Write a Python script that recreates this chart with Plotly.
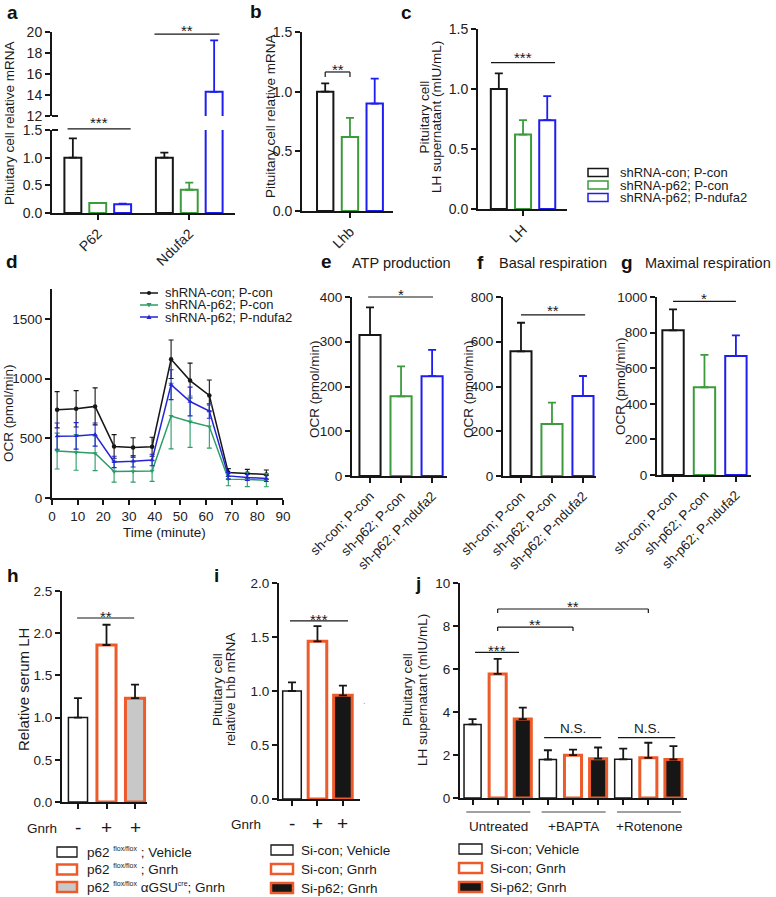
import plotly.graph_objects as go

W, H = 776, 897
FONT = "Liberation Sans, Arial, Helvetica, sans-serif"
INK = "#161616"
GREEN = "#3c9c3c"
BLUE = "#1e1ef0"
D_GREEN = "#2b9d69"
D_BLUE = "#2525d6"
ORANGE = "#ee5b2b"
GREY = "#c8c8c8"

# ---------------- data ----------------
series_names = ["shRNA-con; P-con", "shRNA-p62; P-con", "shRNA-p62; P-ndufa2"]

a_genes = ["P62", "Ndufa2"]
a_shcon = [1.00, 1.00]
a_shcon_err = [0.35, 0.09]
a_shp62 = [0.18, 0.42]
a_shp62_err = [0.00, 0.13]
a_ndufa2 = [0.16, 14.3]
a_ndufa2_err = [0.01, 4.9]

b_gene = ["Lhb"]
b_vals = [1.00, 0.62, 0.90]
b_err = [0.07, 0.16, 0.21]

c_gene = ["LH"]
c_vals = [1.00, 0.62, 0.74]
c_err = [0.13, 0.12, 0.20]

d_time = [2.0, 9.4, 16.8, 24.2, 31.6, 39.0, 46.4, 53.8, 61.3, 68.7, 76.1, 83.5]
d_shcon = [739, 747, 767, 432, 423, 429, 1162, 983, 858, 213, 205, 197]
d_shcon_err = [152, 152, 155, 99, 81, 80, 161, 146, 130, 33, 35, 38]
d_shp62 = [393, 382, 374, 221, 221, 227, 686, 639, 598, 158, 155, 149]
d_shp62_err = [150, 150, 145, 88, 88, 88, 275, 215, 180, 55, 60, 55]
d_ndufa2 = [518, 520, 531, 302, 307, 318, 949, 808, 728, 185, 172, 163]
d_ndufa2_err = [110, 111, 97, 48, 48, 48, 125, 120, 60, 28, 25, 25]

efg_labels = ["sh-con; P-con", "sh-p62; P-con", "sh-p62; P-ndufa2"]
e_vals = [315, 178, 223]
e_err = [62, 67, 59]
f_vals = [557, 232, 358]
f_err = [128, 96, 89]
g_vals = [813, 493, 668]
g_err = [117, 182, 116]

h_groups = ["p62 <sup><span style='font-size:7px'>flox/flox</span></sup> ; Vehicle",
            "p62 <sup><span style='font-size:7px'>flox/flox</span></sup> ; Gnrh",
            "p62 <sup><span style='font-size:7px'>flox/flox</span></sup> αGSU<sup><span style='font-size:7px'>cre</span></sup>; Gnrh"]
h_gnrh = ["-", "+", "+"]
h_vals = [1.00, 1.86, 1.23]
h_err = [0.23, 0.24, 0.16]

i_groups = ["Si-con; Vehicle", "Si-con; Gnrh", "Si-p62; Gnrh"]
i_gnrh = ["-", "+", "+"]
i_vals = [1.00, 1.46, 0.96]
i_err = [0.08, 0.14, 0.09]

j_treat = ["Untreated", "+BAPTA", "+Rotenone"]
j_conditions = ["Si-con; Vehicle", "Si-con; Gnrh", "Si-p62; Gnrh"]
j_sicon_veh = [3.42, 1.79, 1.80]
j_sicon_veh_err = [0.25, 0.43, 0.50]
j_sicon_gnrh = [5.77, 1.99, 1.87]
j_sicon_gnrh_err = [0.70, 0.26, 0.70]
j_sip62_gnrh = [3.67, 1.83, 1.79]
j_sip62_gnrh_err = [0.53, 0.52, 0.62]

# ---------------- helpers ----------------
fig = go.Figure()
layout = {}
SPEC = {}
shapes, annotations = [], []


def add_axes(i, xpx, ypx, xr, yr, xkw=None, ykw=None):
    SPEC[i] = dict(xpx=xpx, ypx=ypx, xr=xr, yr=yr)
    xn = "xaxis" if i == 1 else f"xaxis{i}"
    yn = "yaxis" if i == 1 else f"yaxis{i}"
    xid = "x" if i == 1 else f"x{i}"
    yid = "y" if i == 1 else f"y{i}"
    base = dict(showline=True, linecolor=INK, linewidth=2, ticks="outside", ticklen=5,
                tickwidth=2, tickcolor=INK, showgrid=False, zeroline=False, fixedrange=True,
                automargin=False,
                tickfont=dict(family=FONT, size=13.5, color="#222"))
    xa = dict(base)
    xa.update(domain=[xpx[0] / W, xpx[1] / W], range=list(xr), anchor=yid)
    xa.update(xkw or {})
    ya = dict(base)
    ya.update(domain=[1 - ypx[1] / H, 1 - ypx[0] / H], range=list(yr), anchor=xid)
    ya.update(ykw or {})
    layout[xn] = xa
    layout[yn] = ya
    return xid, yid


def X(i, v):
    s = SPEC[i]
    a, b = s["xpx"]
    r0, r1 = s["xr"]
    return a + (v - r0) / (r1 - r0) * (b - a)


def Y(i, v):
    s = SPEC[i]
    t, b = s["ypx"]
    r0, r1 = s["yr"]
    return b - (v - r0) / (r1 - r0) * (b - t)


def line(x0, y0, x1, y1, color=INK, w=1.2):
    shapes.append(dict(type="line", xref="paper", yref="paper", x0=x0 / W, y0=1 - y0 / H,
                       x1=x1 / W, y1=1 - y1 / H, line=dict(color=color, width=w)))


def rect(x0, y0, x1, y1, color=INK, fill="white", w=1.2):
    shapes.append(dict(type="rect", xref="paper", yref="paper", x0=x0 / W, y0=1 - y0 / H,
                       x1=x1 / W, y1=1 - y1 / H, line=dict(color=color, width=w), fillcolor=fill))


def text(x, y, s, size=13.5, xanchor="center", yanchor="middle", angle=0, bold=False, color="#1a1a1a"):
    annotations.append(dict(xref="paper", yref="paper", x=x / W, y=1 - y / H,
                            text=f"<b>{s}</b>" if bold else s, showarrow=False,
                            font=dict(size=size, family=FONT, color=color),
                            xanchor=xanchor, yanchor=yanchor, textangle=angle))


def sig(i, xa, xb, yv, label, gap=6, drop=0, size=15):
    y = Y(i, yv)
    x0, x1 = X(i, xa), X(i, xb)
    line(x0, y, x1, y, w=1.2)
    if drop:
        line(x0, y, x0, y + drop, w=1.2)
        line(x1, y, x1, y + drop, w=1.2)
    if label.startswith("*"):
        text((x0 + x1) / 2, y - gap + 0.23 * size, label, size=size)
    else:
        text((x0 + x1) / 2, y - gap, label, size=size)


def bar(xid, yid, x, y, err, lc, fill="white", lw=2.0, ec=None, offset=None, width=0.18):
    kw = {}
    if offset is not None:
        kw["offset"] = offset
    fig.add_trace(go.Bar(
        x=x, y=y, xaxis=xid, yaxis=yid, width=width,
        marker=dict(color=fill, line=dict(color=lc, width=lw)),
        error_y=dict(type="data", array=err, arrayminus=[0] * len(err), symmetric=False,
                     color=ec or lc, thickness=1.8, width=4),
        showlegend=False, hoverinfo="skip", **kw))


TRI_COLORS = [INK, GREEN, BLUE]
slot, bw = 0.272, 0.185
TF14 = dict(family=FONT, size=14, color="#222")

# ---------------- panel a (broken axis) ----------------
xa1, ya1 = add_axes(1, (52, 235), (130, 213), (-0.5, 1.5), (0, 1.5),
                    dict(type="category", categoryarray=a_genes, tickangle=-45, tickfont=TF14),
                    dict(dtick=0.5, tick0=0, tickformat=".1f", tickfont=TF14))
xa2, ya2 = add_axes(2, (52, 235), (32, 116), (-0.5, 1.5), (12, 20),
                    dict(type="category", categoryarray=a_genes, visible=False),
                    dict(dtick=2, tick0=12, tickfont=TF14))
a_vals = [a_shcon, a_shp62, a_ndufa2]
a_errs = [a_shcon_err, a_shp62_err, a_ndufa2_err]
for k in range(3):
    for xid, yid in ((xa1, ya1), (xa2, ya2)):
        bar(xid, yid, a_genes, a_vals[k], a_errs[k], TRI_COLORS[k],
            offset=(k - 1) * slot - bw / 2, width=bw)
line(52, Y(2, 12), 58, Y(2, 12), w=2)
line(52, Y(1, 1.5), 58, Y(1, 1.5), w=2)
sig(1, -0.33, 0.36, 1.52, "***", gap=10)
sig(2, 0.62, 1.33, 19.8, "**", gap=7.5)
text(9, 123, "Pituitary cell relative mRNA", angle=-90)

# ---------------- panel b ----------------
xb, yb = add_axes(3, (302, 393), (32, 211), (-0.527, 0.473), (0, 1.5),
                  dict(type="category", tickangle=-45, tickfont=TF14),
                  dict(dtick=0.5, tick0=0, tickformat=".1f", tickfont=TF14))
for k in range(3):
    bar(xb, yb, b_gene, [b_vals[k]], [b_err[k]], TRI_COLORS[k], offset=(k - 1) * slot - 0.09, width=0.18)
sig(3, -slot, 0, 1.165, "**", gap=5.6, drop=5)
text(270, 116, "Pituitary cell relative mRNA", angle=-90)

# ---------------- panel c ----------------
xc, yc = add_axes(4, (478, 567), (29, 209), (-0.506, 0.494), (0, 1.5),
                  dict(type="category", tickangle=-45, tickfont=TF14),
                  dict(dtick=0.5, tick0=0, tickformat=".1f", tickfont=TF14))
for k in range(3):
    bar(xc, yc, c_gene, [c_vals[k]], [c_err[k]], TRI_COLORS[k], offset=(k - 1) * slot - 0.09, width=0.18)
sig(4, -0.36, 0.36, 1.22, "***", gap=8.4)
text(423.5, 117, "Pituitary cell", angle=-90)
text(436, 117, "LH supernatant (mIU/mL)", angle=-90)
for k, nm in enumerate(series_names):
    ry = 172.5 + k * 12.5
    rect(588, ry - 4, 608, ry + 4, color=TRI_COLORS[k], w=1.5)
    text(618, ry, nm, size=13, xanchor="left")

# ---------------- panel d ----------------
xd, yd = add_axes(5, (52, 283), (289, 498), (0, 90), (0, 1750),
                  dict(tickvals=list(range(0, 100, 10))),
                  dict(tickvals=[0, 500, 1000, 1500]))
d_sets = [(d_shcon, d_shcon_err, INK, "circle"),
          (d_shp62, d_shp62_err, D_GREEN, "triangle-down"),
          (d_ndufa2, d_ndufa2_err, D_BLUE, "triangle-up")]
for vals, errs, col, sym in d_sets:
    fig.add_trace(go.Scatter(x=d_time, y=vals, xaxis=xd, yaxis=yd, mode="lines+markers",
                             line=dict(color=col, width=1.5),
                             marker=dict(symbol=sym, size=4.5, color=col),
                             error_y=dict(type="data", array=errs, color=col, thickness=1.1, width=2.5),
                             showlegend=False, hoverinfo="skip"))
for k, (vals, errs, col, sym) in enumerate(d_sets):
    ry = 293 + k * 12
    line(140, ry, 158, ry, color=col, w=1.5)
    if sym == "circle":
        shapes.append(dict(type="circle", xref="paper", yref="paper", x0=147 / W, x1=151 / W,
                           y0=1 - (ry + 2) / H, y1=1 - (ry - 2) / H, fillcolor=col, line=dict(color=col, width=0)))
    else:
        s = 1 if sym == "triangle-up" else -1
        pts = [(146.5, ry + 2 * s), (151.5, ry + 2 * s), (149, ry - 2.5 * s)]
        path = "M" + " L".join(f"{px / W:.5f},{1 - py / H:.5f}" for px, py in pts) + " Z"
        shapes.append(dict(type="path", xref="paper", yref="paper", path=path, fillcolor=col,
                           line=dict(color=col, width=0)))
    text(163, ry, series_names[k], size=13, xanchor="left")
text(164, 532, "Time (minute)")
text(8, 413, "OCR (pmol/min)", angle=-90)

# ---------------- panels e, f, g ----------------
efg = [(6, (352, 447), (297, 476), (-0.58, 2.48), 400, 100, e_vals, e_err),
       (7, (503, 596), (297, 476), (-0.58, 2.42), 800, 200, f_vals, f_err),
       (8, (657, 751), (297, 475), (-0.51, 2.48), 1000, 200, g_vals, g_err)]
for idx, xpx, ypx, xr, ymax, dt, vals, errs in efg:
    xid, yid = add_axes(idx, xpx, ypx, xr, (0, ymax),
                        dict(type="category", tickangle=-45, tickfont=dict(family=FONT, size=13.5, color="#222")),
                        dict(dtick=dt, tick0=0))
    for k in range(3):
        bar(xid, yid, [efg_labels[k]], [vals[k]], [errs[k]], TRI_COLORS[k], width=0.68)
sig(6, -0.06, 2.03, 400, "*", gap=6)
sig(7, 0.0, 2.07, 720, "**", gap=8.3)
sig(8, 0.0, 2.0, 975, "*", gap=6.7)
text(314, 389, "OCR (pmol/min)", angle=-90)
text(468, 389, "OCR (pmol/min)", angle=-90)
text(620, 386, "OCR (pmol/min)", angle=-90)
text(350, 263, "ATP production", size=14.5, xanchor="left")
text(497, 263, "Basal respiration", size=14.5, xanchor="left")
text(643, 263, "Maximal respiration", size=14.5, xanchor="left")

# ---------------- panel h ----------------
HIJ = [("white", INK, 1.5), ("white", ORANGE, 3), (GREY, ORANGE, 3)]
xh, yh = add_axes(9, (62, 147), (591, 802), (-0.56, 2.42), (0, 2.5),
                  dict(type="category", showticklabels=False),
                  dict(dtick=0.5, tick0=0, tickformat=".1f"))
for k in range(3):
    fill, lc, lw = HIJ[k]
    bar(xh, yh, [h_groups[k]], [h_vals[k]], [h_err[k]], lc, fill=fill, lw=lw, ec=INK, width=0.67)
    text(X(9, k), 827, h_gnrh[k], size=19)
text(42, 828, "Gnrh", size=13.5)
sig(9, -0.03, 1.97, 2.18, "**", gap=5)
text(23, 690, "Relative serum LH", size=15, angle=-90)
for k in range(3):
    fill, lc, lw = HIJ[k]
    ry = 852 + k * 17.5
    rect(57, ry - 5, 77, ry + 5, color=lc, fill=fill, w=1.3 if k == 0 else 2.5)
    text(85, ry, h_groups[k], size=13.5, xanchor="left")

# ---------------- panel i ----------------
HIJ2 = [("white", INK, 1.5), ("white", ORANGE, 3), (INK, ORANGE, 3)]
xi, yi = add_axes(10, (279, 360), (583, 799), (-0.51, 2.67), (0, 2.0),
                  dict(type="category", showticklabels=False),
                  dict(dtick=0.5, tick0=0, tickformat=".1f"))
for k in range(3):
    fill, lc, lw = HIJ2[k]
    bar(xi, yi, [i_groups[k]], [i_vals[k]], [i_err[k]], lc, fill=fill, lw=lw, ec=INK, width=0.73)
    text(X(10, k), 823, i_gnrh[k], size=19)
text(246, 824, "Gnrh", size=13.5)
sig(10, -0.08, 2.2, 1.65, "***", gap=4.7)
text(217, 690, "Pituitary cell", angle=-90)
text(230, 690, "relative Lhb mRNA", angle=-90)
text(364, 701, ".", size=9, color="#999")
for k in range(3):
    fill, lc, lw = HIJ2[k]
    ry = 850 + k * 19
    rect(271, ry - 5, 293, ry + 5, color=lc, fill=fill, w=1.3 if k == 0 else 2.5)
    text(299, ry, i_groups[k], size=13.5, xanchor="left")

# ---------------- panel j ----------------
xj, yj = add_axes(11, (460, 687), (583, 798), (-0.5, 8.54), (0, 10),
                  dict(tickvals=list(range(9)), showticklabels=False),
                  dict(dtick=2, tick0=0))
j_sets = [(j_sicon_veh, j_sicon_veh_err), (j_sicon_gnrh, j_sicon_gnrh_err), (j_sip62_gnrh, j_sip62_gnrh_err)]
for k, (vals, errs) in enumerate(j_sets):
    fill, lc, lw = HIJ2[k]
    xs = [g * 3 + k for g in range(len(j_treat))]
    bar(xj, yj, xs, vals, errs, lc, fill=fill, lw=lw, ec=INK, width=0.68)
sig(11, 0.1, 1.85, 6.77, "***", gap=5.5)
sig(11, 1.0, 4.0, 7.95, "**", gap=5.6, drop=4)
sig(11, 1.0, 7.0, 8.79, "**", gap=6, drop=4)
sig(11, 2.85, 5.12, 2.81, "N.S.", gap=9, size=13.5)
sig(11, 5.79, 8.07, 2.81, "N.S.", gap=9, size=13.5)
for g, name in enumerate(j_treat):
    x0, x1 = X(11, g * 3 - 0.25), X(11, g * 3 + 2.3)
    line(x0, 812, x1, 812, color="#444", w=1.2)
    text((x0 + x1) / 2, 826, name, size=13.5)
text(407, 690, "Pituitary cell", angle=-90)
text(422, 690, "LH supernatant (mIU/mL)", angle=-90)
for k in range(3):
    fill, lc, lw = HIJ2[k]
    ry = 849 + k * 19
    rect(459, ry - 5, 482, ry + 5, color=lc, fill=fill, w=1.3 if k == 0 else 2.5)
    text(488, ry, j_conditions[k], size=13.5, xanchor="left")

# ---------------- panel letters ----------------
for lt, x, y in [("a", 12, 13), ("b", 256, 12), ("c", 406, 13), ("d", 12, 261), ("e", 326, 261),
                 ("f", 480, 262), ("g", 627, 263), ("h", 13, 575), ("i", 216, 575), ("j", 418, 583)]:
    text(x, y, lt, size=19, bold=True, color="#111")

layout.update(template="none", width=W, height=H, margin=dict(l=0, r=0, t=0, b=0, pad=0),
              autosize=False, paper_bgcolor="white",
              plot_bgcolor="rgba(0,0,0,0)", barmode="overlay", showlegend=False,
              font=dict(family=FONT, color="#1a1a1a"), shapes=shapes, annotations=annotations)
fig.update_layout(**layout)
fig.write_html("out.html", config=dict(displayModeBar=False),
               post_script="document.body.style.margin='0px';document.body.style.overflow='hidden';")
